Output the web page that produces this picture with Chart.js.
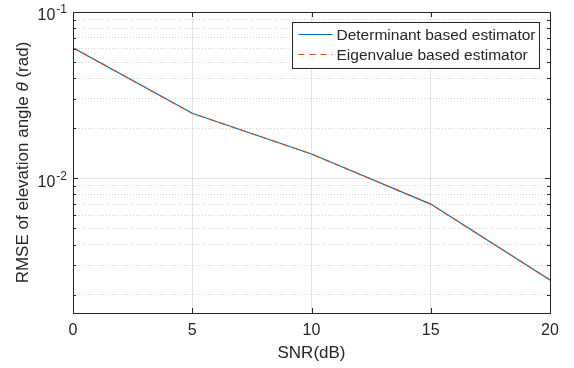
<!DOCTYPE html>
<html>
<head>
<meta charset="utf-8">
<script src="https://cdn.jsdelivr.net/npm/chart.js@4.4.0/dist/chart.umd.min.js"></script>
<style>
  html, body { margin: 0; padding: 0; background: #fff; }
</style>
</head>
<body>
<canvas id="chart" width="574" height="368"></canvas>
<script>
const snr = [0, 5, 10, 15, 20];
const rmseDeterminant = [0.0610, 0.0246, 0.0140, 0.0070, 0.00245];
const rmseEigenvalue = [0.0610, 0.0246, 0.0140, 0.0070, 0.00245];
const seriesLabels = ['Determinant based estimator', 'Eigenvalue based estimator'];
const xTicks = [0, 5, 10, 15, 20];
const yTicks = [0.002, 0.003, 0.004, 0.005, 0.006, 0.007, 0.008, 0.009, 0.01,
  0.02, 0.03, 0.04, 0.05, 0.06, 0.07, 0.08, 0.09, 0.1];
// base and exponent of the labelled decades
const yTickLabels = [[0.01, '10', '-2'], [0.1, '10', '-1']];
const yTitleParts = ['RMSE of elevation angle ', 'θ', ' (rad)'];

const FONT = '"Liberation Sans", Arial, sans-serif';
const TEXT = '#262626';
const BLUE = '#0072BD';
const ORANGE = '#D95319';

const isMajor = v => Math.abs(Math.log10(v) - Math.round(Math.log10(v))) < 1e-9;

// MATLAB-ish box with inward ticks
const boxPlugin = {
  id: 'box',
  afterDatasetsDraw(chart) {
    const { ctx, chartArea: a, scales: { x, y } } = chart;
    ctx.save();
    ctx.strokeStyle = TEXT;
    ctx.lineWidth = 1;
    ctx.beginPath();
    xTicks.forEach(v => {
      const px = Math.round(x.getPixelForValue(v)) + 0.5;
      ctx.moveTo(px, a.bottom); ctx.lineTo(px, a.bottom - 5);
      ctx.moveTo(px, a.top); ctx.lineTo(px, a.top + 5);
    });
    yTicks.forEach(v => {
      const py = Math.round(y.getPixelForValue(v)) + 0.5;
      const len = isMajor(v) ? 5 : 3;
      ctx.moveTo(a.left, py); ctx.lineTo(a.left + len, py);
      ctx.moveTo(a.right, py); ctx.lineTo(a.right - len, py);
    });
    ctx.stroke();
    ctx.strokeRect(Math.round(a.left) + 0.5, Math.round(a.top) + 0.5,
      Math.round(a.right - a.left), Math.round(a.bottom - a.top));
    ctx.restore();
  }
};

// y tick labels with superscript exponent, and y title with italic theta
const yTextPlugin = {
  id: 'yText',
  afterDraw(chart) {
    const { ctx, chartArea: a, scales: { y } } = chart;
    ctx.save();
    ctx.fillStyle = TEXT;
    ctx.textBaseline = 'middle';
    yTickLabels.forEach(([v, base, exp]) => {
      const py = y.getPixelForValue(v);
      ctx.font = '12px ' + FONT;
      const ew = ctx.measureText(exp).width;
      ctx.font = '16px ' + FONT;
      const bw = ctx.measureText(base).width;
      const right = a.left - 6;
      ctx.fillText(base, right - ew - 1 - bw, py + 4);
      ctx.font = '12px ' + FONT;
      ctx.fillText(exp, right - ew, py - 2);
    });

    const fonts = ['17px ' + FONT, 'italic 17px ' + FONT, '17px ' + FONT];
    const widths = yTitleParts.map((t, i) => { ctx.font = fonts[i]; return ctx.measureText(t).width; });
    const total = widths.reduce((s, w) => s + w, 0);
    ctx.translate(23, (a.top + a.bottom) / 2);
    ctx.rotate(-Math.PI / 2);
    let cx = -total / 2;
    yTitleParts.forEach((t, i) => {
      ctx.font = fonts[i];
      ctx.fillText(t, cx, 0);
      cx += widths[i];
    });
    ctx.restore();
  }
};

// legend box inside the plot, top right
const legendPlugin = {
  id: 'boxLegend',
  afterDraw(chart) {
    const { ctx, chartArea: a } = chart;
    const datasets = chart.data.datasets;
    ctx.save();
    ctx.font = '15.5px ' + FONT;
    const textW = Math.max(...datasets.map(d => ctx.measureText(d.label).width));
    const w = 44 + textW + 4;
    const h = 46;
    const left = Math.round(a.right - 11 - w) + 0.5;
    const top = Math.round(a.top + 10) + 0.5;
    ctx.fillStyle = '#fff';
    ctx.fillRect(left, top, w, h);
    ctx.strokeStyle = TEXT;
    ctx.lineWidth = 1;
    ctx.strokeRect(left, top, w, h);
    datasets.forEach((d, i) => {
      const cy = top + 12 + i * 20;
      ctx.strokeStyle = d.borderColor;
      ctx.lineWidth = d.borderWidth;
      ctx.setLineDash(d.borderDash || []);
      ctx.beginPath();
      ctx.moveTo(left + 6, cy);
      ctx.lineTo(left + 40, cy);
      ctx.stroke();
      ctx.setLineDash([]);
      ctx.fillStyle = TEXT;
      ctx.textBaseline = 'middle';
      ctx.fillText(d.label, left + 44, cy + 1);
    });
    ctx.restore();
  }
};

new Chart(document.getElementById('chart'), {
  type: 'line',
  data: {
    datasets: [
      {
        label: seriesLabels[0],
        data: snr.map((s, i) => ({ x: s, y: rmseDeterminant[i] })),
        borderColor: BLUE,
        borderWidth: 1.2,
        pointRadius: 0,
        order: 1
      },
      {
        label: seriesLabels[1],
        data: snr.map((s, i) => ({ x: s, y: rmseEigenvalue[i] })),
        borderColor: ORANGE,
        borderWidth: 1.2,
        borderDash: [6, 5],
        pointRadius: 0,
        order: 0
      }
    ]
  },
  options: {
    responsive: false,
    animation: false,
    layout: { padding: { top: 12, right: 24, left: 0, bottom: 0 } },
    plugins: { legend: { display: false }, tooltip: { enabled: false } },
    scales: {
      x: {
        type: 'linear',
        min: 0,
        max: 20,
        afterBuildTicks: scale => { scale.ticks = xTicks.map(v => ({ value: v })); },
        afterFit: scale => { scale.height = 55; },
        grid: { color: 'rgba(38,38,38,0.13)', drawTicks: false },
        border: { display: false },
        ticks: { color: TEXT, font: { family: FONT, size: 16 }, padding: 8, autoSkip: false, maxRotation: 0 },
        title: { display: true, text: 'SNR(dB)', color: TEXT, font: { family: FONT, size: 17 }, padding: { top: 0, bottom: 4 } }
      },
      y: {
        type: 'logarithmic',
        min: 0.00155,
        max: 0.1,
        bounds: 'data',
        afterBuildTicks: scale => { scale.ticks = yTicks.map(v => ({ value: v })); },
        afterFit: scale => { scale.width = 73; },
        grid: {
          drawTicks: false,
          color: ctx => ctx.tick && isMajor(ctx.tick.value) ? 'rgba(38,38,38,0.13)' : 'rgba(38,38,38,0.2)'
        },
        border: {
          display: false,
          dash: ctx => ctx.tick && isMajor(ctx.tick.value) ? [] : [1, 2]
        },
        ticks: { autoSkip: false, callback: () => '' },
        title: { display: false }
      }
    }
  },
  plugins: [boxPlugin, yTextPlugin, legendPlugin]
});
</script>
</body>
</html>
